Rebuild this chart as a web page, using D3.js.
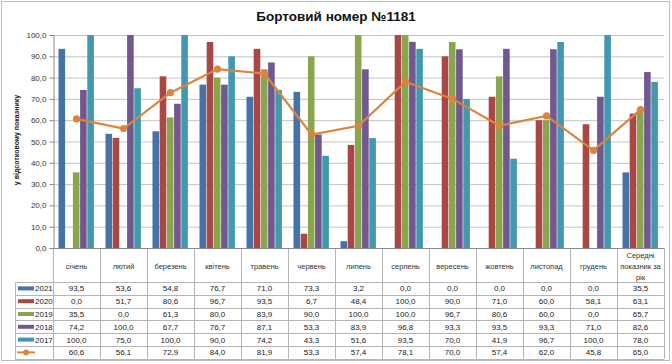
<!DOCTYPE html>
<html><head><meta charset="utf-8">
<script src="https://cdn.jsdelivr.net/npm/d3@7/dist/d3.min.js"></script>
<style>body{margin:0;background:#fff}svg{display:block}</style>
</head><body>
<svg id="c" width="672" height="364"></svg>
<script>
const categories = ["січень","лютий","березень","квітень","травень","червень","липень","серпень","вересень","жовтень","листопад","грудень","Середні показник за рік"];
const seriesNames = ["2021","2020","2019","2018","2017"];
const s2021 = [93.5,53.6,54.8,76.7,71.0,73.3,3.2,0.0,0.0,0.0,0.0,0.0,35.5];
const s2020 = [0.0,51.7,80.6,96.7,93.5,6.7,48.4,100.0,90.0,71.0,60.0,58.1,63.1];
const s2019 = [35.5,0.0,61.3,80.0,83.9,90.0,100.0,100.0,96.7,80.6,60.0,0.0,65.7];
const s2018 = [74.2,100.0,67.7,76.7,87.1,53.3,83.9,96.8,93.3,93.5,93.3,71.0,82.6];
const s2017 = [100.0,75.0,100.0,90.0,74.2,43.3,51.6,93.5,70.0,41.9,96.7,100.0,78.0];
const average = [60.6,56.1,72.9,84.0,81.9,53.3,57.4,78.1,70.0,57.4,62.0,45.8,65.0];
const yTicks = [0,10,20,30,40,50,60,70,80,90,100];
const title = "Бортовий номер №1181";
const yTitle = "у відсотковому показнику";

const seriesValues = [s2021,s2020,s2019,s2018,s2017];
const colors = ["#4572A7","#AA4643","#89A54E","#71588F","#4198AF"];
const lineColor = "#DB843D";
const font = "'Liberation Sans', Arial, sans-serif";
const fmt = v => d3.format(".1f")(v).replace(".", ",");

const svg = d3.select("#c");
svg.append("rect").attr("x",1.5).attr("y",1.5).attr("width",668).attr("height",359)
  .attr("fill","#fff").attr("stroke","#bdbdbd").attr("stroke-width",1);

const L = 53, R = 664, T = 35, B = 248;
const x = d3.scaleBand().domain(categories).range([L,R]).paddingInner(0).paddingOuter(0);
const xi = d3.scaleBand().domain(seriesNames).range([5.5, x.bandwidth()-5.5]).padding(0);
const y = d3.scaleLinear().domain([0,100]).range([B,T]);

// title
svg.append("text").attr("x",336).attr("y",21).attr("text-anchor","middle")
  .attr("font-family",font).attr("font-weight","bold").attr("font-size",13.5).attr("fill","#111").text(title);

// gridlines
svg.append("g").selectAll("line").data(yTicks.filter(d=>d>0)).join("line")
  .attr("x1",L).attr("x2",R).attr("y1",d=>y(d)+0.5).attr("y2",d=>y(d)+0.5)
  .attr("stroke","#c4c4c4").attr("stroke-width",1);

// y axis
const yAxis = d3.axisLeft(y).tickValues(yTicks).tickFormat(fmt).tickSize(4).tickPadding(3);
const gy = svg.append("g").attr("transform",`translate(${L+0.5},0)`).call(yAxis);
gy.select(".domain").attr("stroke","#8a8a8a");
gy.selectAll(".tick line").attr("stroke","#8a8a8a");
gy.selectAll(".tick text").attr("font-family",font).attr("font-size",8).attr("fill","#333");

// y title
svg.append("text").attr("transform",`translate(19,140) rotate(-90)`).attr("text-anchor","middle")
  .attr("font-family",font).attr("font-weight","bold").attr("font-size",7).attr("fill","#222").text(yTitle);

// bars
seriesValues.forEach((vals,si)=>{
  svg.append("g").selectAll("rect").data(vals).join("rect")
    .attr("x",(d,i)=>x(categories[i])+xi(seriesNames[si]))
    .attr("width",xi.bandwidth()-0.6)
    .attr("y",d=>y(d)).attr("height",d=>B-y(d))
    .attr("fill",colors[si]);
});

// line
const line = d3.line().x((d,i)=>x(categories[i])+x.bandwidth()/2).y(d=>y(d));
svg.append("path").datum(average).attr("d",line).attr("fill","none").attr("stroke",lineColor).attr("stroke-width",2.2);
svg.append("g").selectAll("circle").data(average).join("circle")
  .attr("cx",(d,i)=>x(categories[i])+x.bandwidth()/2).attr("cy",d=>y(d)).attr("r",3.6).attr("fill",lineColor);

// table
const hdrBottom = 282, rowH = 12.8, nRows = 6, tableLeft = 15;
const tableBottom = hdrBottom + rowH*nRows;
const tg = svg.append("g");
const gridColor = "#b5b5b5";
// vertical lines
x.domain().forEach(c=>{
  tg.append("line").attr("x1",Math.round(x(c))+0.5).attr("x2",Math.round(x(c))+0.5).attr("y1",B).attr("y2",tableBottom).attr("stroke",gridColor);
});
tg.append("line").attr("x1",R+0.5).attr("x2",R+0.5).attr("y1",B).attr("y2",tableBottom).attr("stroke",gridColor);
tg.append("line").attr("x1",tableLeft+0.5).attr("x2",tableLeft+0.5).attr("y1",hdrBottom).attr("y2",tableBottom).attr("stroke",gridColor);
// horizontal lines
tg.append("line").attr("x1",L).attr("x2",R).attr("y1",B+0.5).attr("y2",B+0.5).attr("stroke","#8a8a8a");
for(let r=0;r<=nRows;r++){
  const yy = Math.round(hdrBottom + r*rowH)+0.5;
  tg.append("line").attr("x1",tableLeft).attr("x2",R).attr("y1",yy).attr("y2",yy).attr("stroke",gridColor);
}
// header labels
categories.forEach((c,i)=>{
  const cx = x(c)+x.bandwidth()/2;
  if(i===categories.length-1){
    const lines = ["Середні","показник за","рік"];
    lines.forEach((t,k)=>{
      tg.append("text").attr("x",cx).attr("y",258+k*11).attr("text-anchor","middle")
        .attr("font-family",font).attr("font-size",7.5).attr("fill","#333").text(t);
    });
  } else {
    tg.append("text").attr("x",cx).attr("y",269).attr("text-anchor","middle")
      .attr("font-family",font).attr("font-size",7.5).attr("fill","#333").text(c);
  }
});
// rows
const rows = seriesValues.concat([average]);
rows.forEach((vals,r)=>{
  const cy = hdrBottom + r*rowH + rowH/2;
  vals.forEach((v,i)=>{
    tg.append("text").attr("x",x(categories[i])+x.bandwidth()/2).attr("y",cy+3)
      .attr("text-anchor","middle").attr("font-family",font).attr("font-size",8).attr("fill","#222").text(fmt(v));
  });
  if(r<5){
    tg.append("rect").attr("x",18).attr("y",cy-2).attr("width",16).attr("height",4).attr("fill",colors[r]);
    tg.append("text").attr("x",35).attr("y",cy+3).attr("font-family",font).attr("font-size",8).attr("fill","#222").text(seriesNames[r]);
  } else {
    tg.append("line").attr("x1",17).attr("x2",35).attr("y1",cy).attr("y2",cy).attr("stroke",lineColor).attr("stroke-width",2);
    tg.append("circle").attr("cx",26).attr("cy",cy).attr("r",2.8).attr("fill",lineColor);
  }
});
</script>
</body></html>
